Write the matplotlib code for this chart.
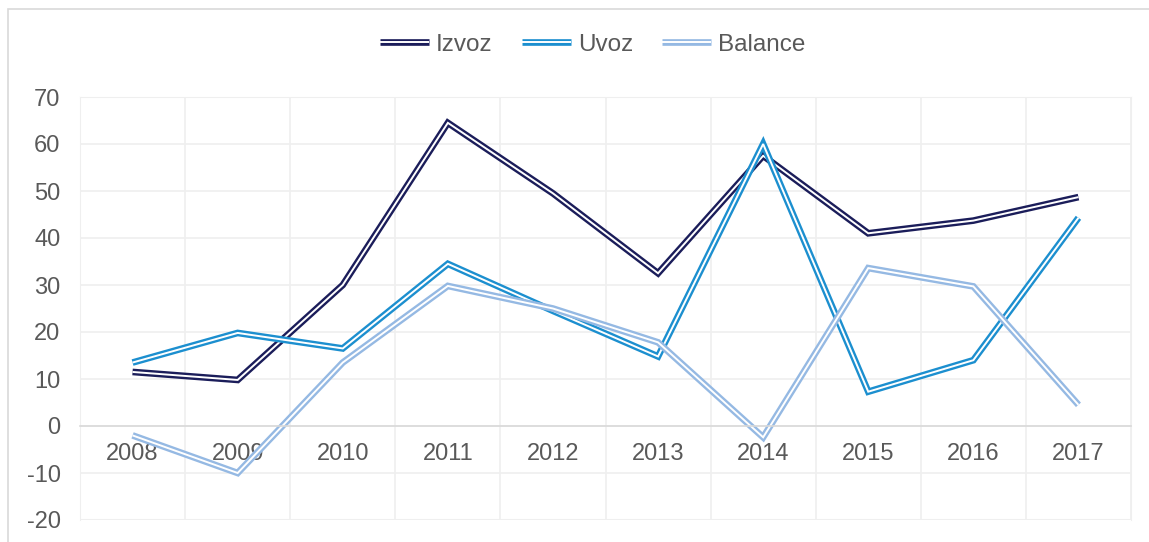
import matplotlib
matplotlib.use("Agg")
import matplotlib.pyplot as plt
from matplotlib import patheffects as pe
from matplotlib.patches import Rectangle

years = ["2008", "2009", "2010", "2011", "2012", "2013", "2014", "2015", "2016", "2017"]
izvoz = [11.5, 9.8, 30.0, 64.5, 49.5, 32.5, 57.5, 41.0, 43.7, 48.7]
uvoz = [13.5, 19.8, 16.5, 34.5, 24.5, 14.8, 60.0, 7.3, 14.0, 44.3]
balance = [-2.0, -10.0, 13.5, 29.8, 25.0, 17.8, -2.4, 33.6, 29.7, 4.5]

series = [
    ("Izvoz", izvoz, "#1b1d5a"),
    ("Uvoz", uvoz, "#1c8fcf"),
    ("Balance", balance, "#95b9e3"),
]

plt.rcParams["font.family"] = ["Liberation Sans", "DejaVu Sans"]
plt.rcParams["axes.unicode_minus"] = False
txt = "#595959"

fig = plt.figure(figsize=(11.49, 5.42), dpi=100)
ax = fig.add_axes([80 / 1149, 22 / 542, 1051 / 1149, 423 / 542])

# outer chart border (top and left only visible)
fig.patches.append(Rectangle((8 / 1149, -0.1), 1.2, 533 / 542 + 0.1,
                             transform=fig.transFigure, fill=False,
                             edgecolor="#d9d9d9", lw=1.2))

x = list(range(len(years)))
for name, vals, col in series:
    ax.plot(x, vals, color="white", lw=1.4, label=name,
            solid_joinstyle="miter", solid_capstyle="butt",
            path_effects=[pe.Stroke(linewidth=4.8, foreground=col,
                                    joinstyle="miter", capstyle="butt"),
                          pe.Normal()])

ax.set_xlim(-0.5, 9.5)
ax.set_ylim(-20, 70)
ax.set_yticks(range(-20, 71, 10))
ax.set_xticks(x)
ax.set_xticklabels(years)
ax.set_xticks([i - 0.5 for i in range(11)], minor=True)

ax.grid(axis="y", which="major", color="#efefef", lw=1.2)
ax.grid(axis="x", which="minor", color="#efefef", lw=1.2)
ax.set_axisbelow(True)

for s in ["top", "left", "right"]:
    ax.spines[s].set_color("#efefef")
ax.spines["bottom"].set_position(("data", 0))
ax.spines["bottom"].set_color("#d9d9d9")
ax.spines["bottom"].set_linewidth(1.2)
ax.axhline(-20, color="#efefef", lw=1.5, zorder=0)

ax.tick_params(axis="both", which="both", length=0, labelsize=17, colors=txt)
ax.tick_params(axis="x", pad=12)
ax.tick_params(axis="y", pad=14)

ax.legend(loc="center", bbox_to_anchor=(0.488, 1.123), ncol=3, frameon=False,
          fontsize=17.5, labelcolor=txt, handlelength=2.0, handletextpad=0.3,
          columnspacing=1.2)

fig.savefig("out.png", dpi=100)
